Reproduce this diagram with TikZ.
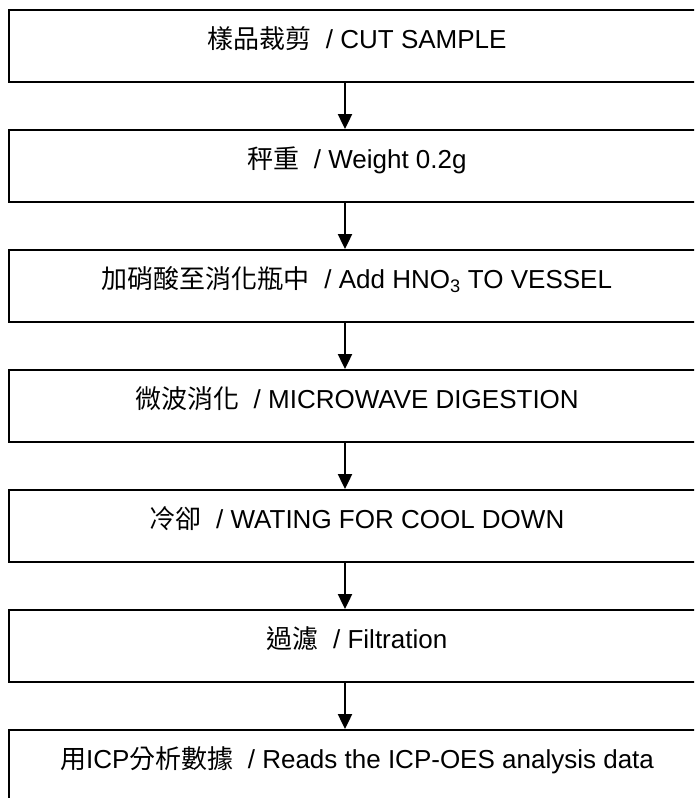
\documentclass[tikz,border=0pt]{standalone}
\usepackage{fontspec}
\setmainfont{Liberation Sans}
\newfontfamily\cjk{Noto Sans CJK TC}
\usetikzlibrary{arrows.meta}
\begin{document}
\begin{tikzpicture}[x=1pt,y=-1pt,>={Triangle[length=15pt,width=14pt]},
  stepbox/.style={draw, line width=2pt, rectangle, minimum width=696pt, minimum height=72pt, inner sep=0pt, text height=20pt, text depth=14.4pt, font=\fontsize{26}{30}\selectfont},
  flow/.style={->, line width=2.4pt}]
\useasboundingbox (0,0) rectangle (694,798);
\clip (0,0) rectangle (694,798);
\node[stepbox] (cut) at (357,46) {{\cjk 樣品裁剪}\ \ / CUT SAMPLE};
\node[stepbox] (weigh) at (357,166) {{\cjk 秤重}\ \ / Weight 0.2g};
\node[stepbox] (acid) at (357,286) {{\cjk 加硝酸至消化瓶中}\ \ / Add HNO\textsubscript{3} TO VESSEL};
\node[stepbox] (digest) at (357,406) {{\cjk 微波消化}\ \ / MICROWAVE DIGESTION};
\node[stepbox] (cool) at (357,526) {{\cjk 冷卻}\ \ / WATING FOR COOL DOWN};
\node[stepbox] (filter) at (357,646) {{\cjk 過濾}\ \ / Filtration};
\node[stepbox] (icp) at (357,766) {{\cjk 用}ICP{\cjk 分析數據}\ \ / Reads the ICP-OES analysis data};
\draw[flow] ([xshift=-12pt]cut.south) -- ([xshift=-12pt]weigh.north);
\draw[flow] ([xshift=-12pt]weigh.south) -- ([xshift=-12pt]acid.north);
\draw[flow] ([xshift=-12pt]acid.south) -- ([xshift=-12pt]digest.north);
\draw[flow] ([xshift=-12pt]digest.south) -- ([xshift=-12pt]cool.north);
\draw[flow] ([xshift=-12pt]cool.south) -- ([xshift=-12pt]filter.north);
\draw[flow] ([xshift=-12pt]filter.south) -- ([xshift=-12pt]icp.north);
\end{tikzpicture}
\end{document}
